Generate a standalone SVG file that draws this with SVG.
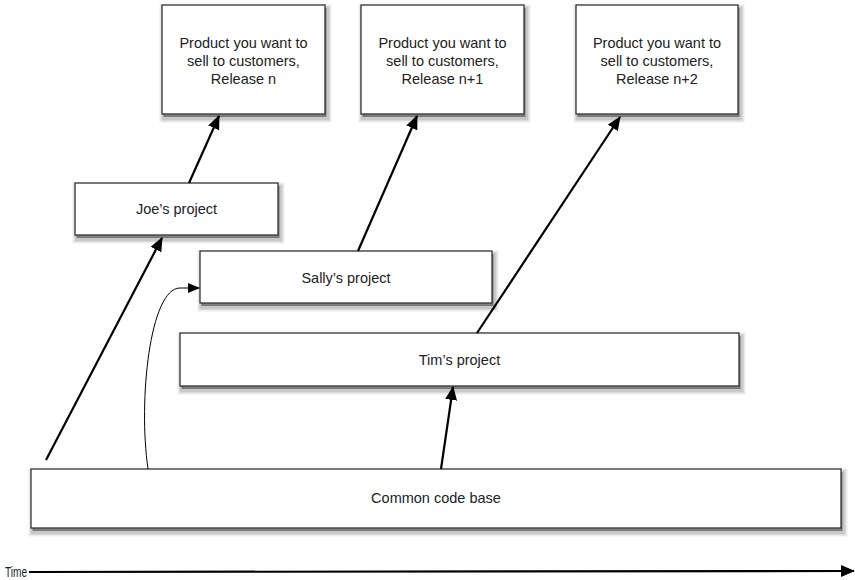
<svg xmlns="http://www.w3.org/2000/svg" width="855" height="580" viewBox="0 0 855 580">
<defs>
<marker id="ah" markerUnits="userSpaceOnUse" markerWidth="14" markerHeight="12" viewBox="0 0 14 12" refX="13" refY="6" orient="auto">
<path d="M0,0 L14,6 L0,12 Z" fill="#000"/>
</marker>
<marker id="ahs" markerUnits="userSpaceOnUse" markerWidth="12" markerHeight="10" viewBox="0 0 12 10" refX="11" refY="5" orient="auto">
<path d="M0,0 L12,5 L0,10 Z" fill="#000"/>
</marker>
</defs>
<style>
.box{fill:#fff;stroke:#333;stroke-width:1.3}
.s1{fill:none;stroke:#000;stroke-opacity:0.08;stroke-width:9}
.s2{fill:none;stroke:#000;stroke-opacity:0.15;stroke-width:5}
.s3{fill:#000;fill-opacity:0.4}
.t{font-family:"Liberation Sans",Arial,sans-serif;font-size:14.5px;fill:#222;text-anchor:middle}
.c{fill:none;stroke:#000;stroke-width:2.2}
.thin{fill:none;stroke:#000;stroke-width:1}
</style>
<rect width="855" height="580" fill="#fff"/>
<g id="rel-n"><rect class="s1" x="164" y="9" width="163" height="109"/><rect class="s2" x="164" y="9" width="163" height="109"/><rect class="s3" x="163.5" y="8" width="163" height="109"/><rect class="box" x="162" y="5" width="163" height="109"/>
<text class="t" x="243.5" y="48">Product you want to</text><text class="t" x="243.5" y="66">sell to customers,</text><text class="t" x="243.5" y="84">Release n</text></g>
<g id="rel-n1"><rect class="s1" x="363" y="9" width="163" height="109"/><rect class="s2" x="363" y="9" width="163" height="109"/><rect class="s3" x="362.5" y="8" width="163" height="109"/><rect class="box" x="361" y="5" width="163" height="109"/>
<text class="t" x="442.5" y="48">Product you want to</text><text class="t" x="442.5" y="66">sell to customers,</text><text class="t" x="442.5" y="84">Release n+1</text></g>
<g id="rel-n2"><rect class="s1" x="578" y="9" width="162" height="109"/><rect class="s2" x="578" y="9" width="162" height="109"/><rect class="s3" x="577.5" y="8" width="162" height="109"/><rect class="box" x="576" y="5" width="162" height="109"/>
<text class="t" x="657" y="48">Product you want to</text><text class="t" x="657" y="66">sell to customers,</text><text class="t" x="657" y="84">Release n+2</text></g>
<g id="joe"><rect class="s1" x="77" y="187" width="203" height="52"/><rect class="s2" x="77" y="187" width="203" height="52"/><rect class="s3" x="76.5" y="186" width="203" height="52"/><rect class="box" x="75" y="183" width="203" height="52"/>
<text class="t" x="176.5" y="214">Joe’s project</text></g>
<g id="sally"><rect class="s1" x="202" y="255" width="292" height="52"/><rect class="s2" x="202" y="255" width="292" height="52"/><rect class="s3" x="201.5" y="254" width="292" height="52"/><rect class="box" x="200" y="251" width="292" height="52"/>
<text class="t" x="346" y="282.5">Sally’s project</text></g>
<g id="tim"><rect class="s1" x="182" y="337" width="559" height="53"/><rect class="s2" x="182" y="337" width="559" height="53"/><rect class="s3" x="181.5" y="336" width="559" height="53"/><rect class="box" x="180" y="333" width="559" height="53"/>
<text class="t" x="459.5" y="364.5">Tim’s project</text></g>
<g id="common"><rect class="s1" x="33" y="473" width="810" height="59"/><rect class="s2" x="33" y="473" width="810" height="59"/><rect class="s3" x="32.5" y="472" width="810" height="59"/><rect class="box" x="31" y="469" width="810" height="59"/>
<text class="t" x="436" y="503">Common code base</text></g>
<g id="connectors">
<line class="c" x1="46" y1="460" x2="162" y2="238" marker-end="url(#ah)"/>
<line class="c" x1="189" y1="183" x2="219" y2="116" marker-end="url(#ah)"/>
<line class="c" x1="358" y1="251" x2="417" y2="116" marker-end="url(#ah)"/>
<line class="c" x1="477" y1="333" x2="620" y2="117" marker-end="url(#ah)"/>
<line class="c" x1="441" y1="469" x2="453" y2="387" marker-end="url(#ah)"/>
<path class="thin" d="M148,469 C138,400 150,288 180,288 L199,288" marker-end="url(#ahs)"/>
<line class="c" x1="29" y1="572" x2="854" y2="571" marker-end="url(#ah)"/>
</g>
<text transform="translate(5,577) scale(0.72,1)" font-family="'Liberation Sans',Arial,sans-serif" font-size="14" fill="#222">Time</text>
</svg>
